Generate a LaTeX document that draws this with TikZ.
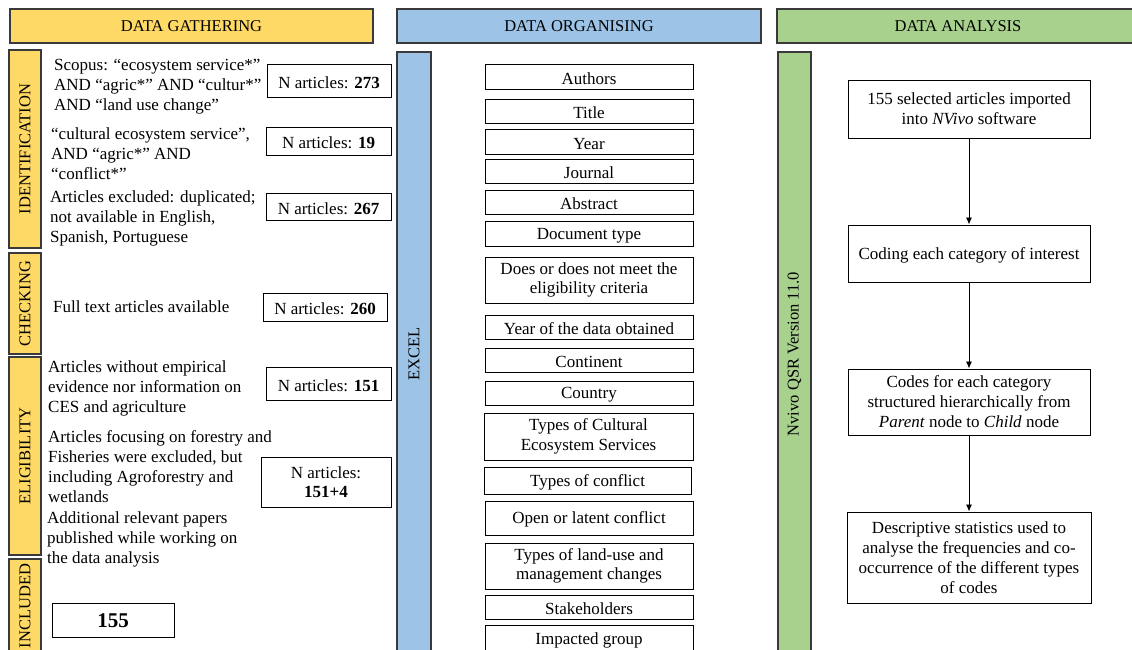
\documentclass[tikz,border=0pt]{standalone}
\usepackage{fontspec}
\setmainfont{Liberation Serif}
\usetikzlibrary{arrows.meta}
\definecolor{gold}{HTML}{FFD966}
\definecolor{sky}{HTML}{9DC3E6}
\definecolor{leaf}{HTML}{A9D18E}
\definecolor{rim}{HTML}{3A3A3A}

\begin{document}
\begin{tikzpicture}[x=1pt,y=-1pt,
  head/.style={draw=rim, line width=1.3pt, inner sep=0pt, font=\fontsize{16.5}{20}\selectfont},
  bar/.style={draw=rim, line width=1.3pt, inner sep=0pt, rotate=90, font=\fontsize{16.5}{20}\selectfont},
  note/.style={anchor=west, align=left, inner sep=0pt, font=\fontsize{17}{20}\selectfont},
  box/.style={draw=black, line width=0.95pt, fill=white, inner sep=0pt, align=center,
    font=\fontsize{17}{19.5}\selectfont, execute at begin node={\rule{0pt}{15.5pt}}},
  flow/.style={-{Latex[length=7pt,width=6pt]}, line width=0.9pt}
]
\useasboundingbox (0,0) rectangle (1132,649);
\clip (0,0) rectangle (1132,649);
\fill[white] (0,0) rectangle (1132,649);

% column headers
\node[head, fill=gold, minimum width=363, minimum height=34] (hg) at (191.5,26) {DATA GATHERING};
\node[head, fill=sky,  minimum width=364, minimum height=34] (ho) at (579,26) {DATA ORGANISING};
\node[head, fill=leaf, minimum width=362, minimum height=34] (ha) at (958,26) {DATA ANALYSIS};

% stage bars of the gathering column
\node[bar, fill=gold, minimum width=198, minimum height=32] (ident) at (25,149) {IDENTIFICATION};
\node[bar, fill=gold, minimum width=101, minimum height=32] (check) at (25,303.5) {CHECKING};
\node[bar, fill=gold, minimum width=198, minimum height=32] (elig)  at (25,456) {ELIGIBILITY};
\node[bar, fill=gold, minimum width=94,  minimum height=32] (incl)  at (25,606) {INCLUDED};

% tool bars
\node[bar, fill=sky,  minimum width=604, minimum height=34] (excel) at (414,354) {EXCEL};
\node[bar, fill=leaf, minimum width=604, minimum height=33] (nvivo) at (794.5,354) {Nvivo QSR Version 11.0};

% search and screening steps
\node[note] (t1) at (54,87) {Scopus: “ecosystem service*”\\AND “agric*” AND “cultur*”\\AND “land use change”};
\node[note] (t2) at (51,154) {“cultural ecosystem service”,\\AND “agric*” AND\\“conflict*”};
\node[note] (t3) at (50,218) {Articles excluded: duplicated;\\not available in English,\\Spanish, Portuguese};
\node[note] (t4) at (53,307) {Full text articles available};
\node[note] (t5) at (48,388) {Articles without empirical\\evidence nor information on\\CES and agriculture};
\node[note] (t6) at (48,466.5) {Articles focusing on forestry and\\Fisheries were excluded, but\\including Agroforestry and\\wetlands};
\node[note] (t7) at (47,539) {Additional relevant papers\\published while working on\\the data analysis};

% article counts
\node[box, minimum width=124, minimum height=33] (n273) at (329,80.5) {N articles: \textbf{273}};
\node[box, minimum width=125, minimum height=28] (n19)  at (328.5,141) {N articles: \textbf{19}};
\node[box, minimum width=125, minimum height=27] (n267) at (328.5,206.5) {N articles: \textbf{267}};
\node[box, minimum width=124, minimum height=28] (n260) at (325,307) {N articles: \textbf{260}};
\node[box, minimum width=125, minimum height=33] (n151) at (328.5,383.5) {N articles: \textbf{151}};
\node[box, minimum width=130, minimum height=50] (n155p) at (326,482) {N articles:\\\textbf{151+4}};
\node[box, minimum width=122, minimum height=34, font=\fontsize{21}{24}\selectfont\bfseries] (n155) at (113,620) {155};

% spreadsheet fields
\node[box, minimum width=208, minimum height=25] (f1)  at (589,76.5) {Authors};
\node[box, minimum width=208, minimum height=24] (f2)  at (589,111) {Title};
\node[box, minimum width=208, minimum height=25] (f3)  at (589,141.5) {Year};
\node[box, minimum width=208, minimum height=24] (f4)  at (589,171) {Journal};
\node[box, minimum width=208, minimum height=24] (f5)  at (589,202) {Abstract};
\node[box, minimum width=208, minimum height=25] (f6)  at (589,233.5) {Document type};
\node[box, minimum width=208, minimum height=46] (f7)  at (589,280) {Does or does not meet the\\eligibility criteria};
\node[box, minimum width=208, minimum height=24] (f8)  at (589,327) {Year of the data obtained};
\node[box, minimum width=208, minimum height=24] (f9)  at (589,360) {Continent};
\node[box, minimum width=208, minimum height=24] (f10) at (589,393) {Country};
\node[box, minimum width=209, minimum height=47] (f11) at (588.5,436.5) {Types of Cultural\\Ecosystem Services};
\node[box, minimum width=207, minimum height=27] (f12) at (587.5,480.5) {Types of conflict};
\node[box, minimum width=208, minimum height=34] (f13) at (589,518) {Open or latent conflict};
\node[box, minimum width=208, minimum height=46] (f14) at (589,566) {Types of land-use and\\management changes};
\node[box, minimum width=208, minimum height=24] (f15) at (589,607) {Stakeholders};
\node[box, minimum width=208, minimum height=27] (f16) at (589,638.5) {Impacted group};

% analysis steps
\node[box, minimum width=242, minimum height=58, font=\fontsize{17}{20}\selectfont] (r1) at (969,109) {155 selected articles imported\\into \textit{NVivo} software};
\node[box, minimum width=242, minimum height=57, font=\fontsize{17}{20}\selectfont] (r2) at (969,253.5) {Coding each category of interest};
\node[box, minimum width=242, minimum height=66, font=\fontsize{17}{20}\selectfont] (r3) at (969,402) {Codes for each category\\structured hierarchically from\\\textit{Parent} node to \textit{Child} node};
\node[box, minimum width=244, minimum height=91, font=\fontsize{17}{20}\selectfont] (r4) at (969,557.5) {Descriptive statistics used to\\analyse the frequencies and co-\\occurrence of the different types\\of codes};

\draw[flow] (r1) -- (r2);
\draw[flow] (r2) -- (r3);
\draw[flow] (r3) -- (r4);
\end{tikzpicture}
\end{document}
